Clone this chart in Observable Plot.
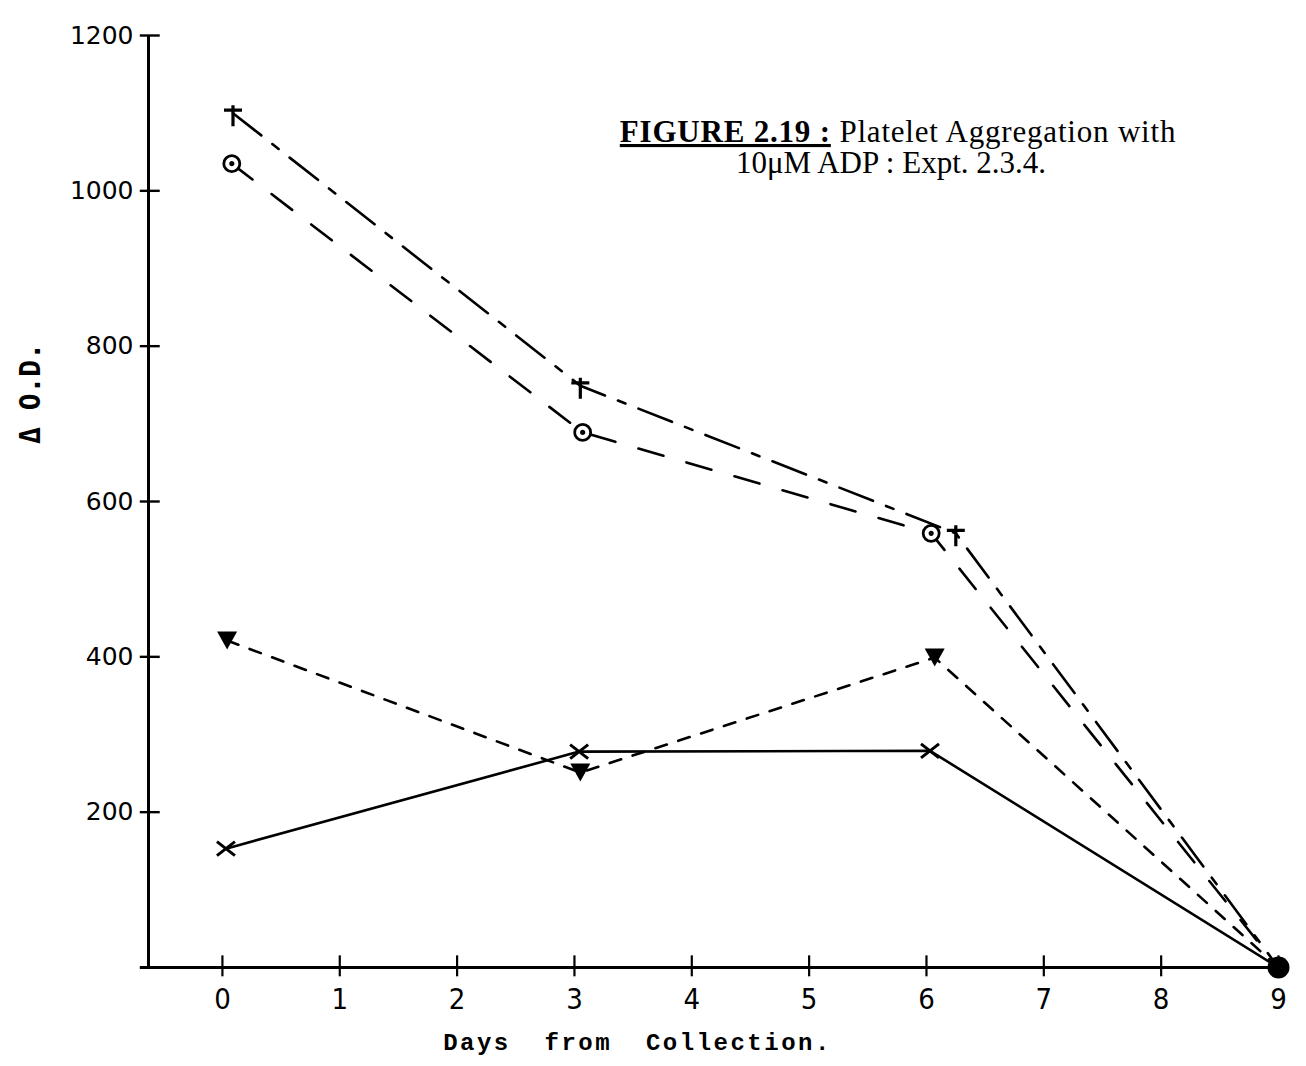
<!DOCTYPE html>
<html><head><meta charset="utf-8">
<script src="https://cdn.jsdelivr.net/npm/d3@7"></script>
<script src="https://cdn.jsdelivr.net/npm/@observablehq/plot@0.6"></script>
<style>
html,body{margin:0;padding:0;background:#fff;}
#chart svg{display:block;}
</style>
</head><body><div id="chart"></div>
<script>
// ---- data ----
const xTicks = [0, 1, 2, 3, 4, 5, 6, 7, 8, 9];
const yTicks = [200, 400, 600, 800, 1000, 1200];

const plusDays = [0.09, 3.05, 6.25, 9];
const plusValues = [1100, 749, 559, 0];
const circleDays = [0.08, 3.07, 6.04, 9];
const circleValues = [1035, 689, 559, 0];
const triangleDays = [0.04, 3.05, 6.07, 9];
const triangleValues = [421, 251, 399, 0];
const crossDays = [0.03, 3.04, 6.03, 9];
const crossValues = [153, 278, 279, 0];
const endDays = [9];
const endValues = [0];

const xLabel = "Days  from  Collection.";
const yLabel = "\u0394 O.D.";
const titleBold = "FIGURE 2.19 :";
const titleRest = " Platelet Aggregation with";
const titleLine2 = "10\u03bcM ADP : Expt. 2.3.4.";

// ---- build tables ----
const mk = (days, vals) => days.map((d, i) => ({day: d, value: vals[i]}));
const plus = mk(plusDays, plusValues);
const circle = mk(circleDays, circleValues);
const triangle = mk(triangleDays, triangleValues);
const cross = mk(crossDays, crossValues);
const endPt = mk(endDays, endValues);

// custom symbols
const daggerSym = {draw(c) { c.moveTo(0, -8); c.lineTo(0, 13); c.moveTo(-9, -3); c.lineTo(9, -3); }};
const ringSym = {draw(c) { c.moveTo(8, 0); c.arc(0, 0, 8, 0, 2 * Math.PI); c.moveTo(1.2, 0); c.arc(0, 0, 1.2, 0, 2 * Math.PI); }};
const triSym = {draw(c) { c.moveTo(-10, -9); c.lineTo(10, -9); c.lineTo(0, 9); c.closePath(); }};
const timesSym = {draw(c) { c.moveTo(-9, -7); c.lineTo(9, 7); c.moveTo(-9, 7); c.lineTo(9, -7); }};

const lineOpts = {x: "day", y: "value", stroke: "black", strokeWidth: 2.6, strokeLinecap: "round"};

const plot = Plot.plot({
  width: 1306,
  height: 1066,
  marginLeft: 148,
  marginRight: 28,
  marginTop: 35,
  marginBottom: 99,
  x: {domain: [-0.63, 9]},
  y: {domain: [0, 1200]},
  style: {background: "white", color: "black", overflow: "visible"},
  marks: [
    // axis lines and crossing ticks
    Plot.ruleY([0], {x1: -0.7, x2: 9, stroke: "black", strokeWidth: 3}),
    Plot.ruleX([-0.63], {y1: 0, y2: 1200, stroke: "black", strokeWidth: 3}),
    Plot.ruleX(xTicks, {x: d => d, y1: -12, y2: 15, stroke: "black", strokeWidth: 2.2}),
    Plot.ruleY(yTicks, {y: d => d, x1: -0.7, x2: -0.53, stroke: "black", strokeWidth: 2.4}),
    Plot.axisX({ticks: xTicks, tickSize: 0, tickPadding: 21, fontSize: 29, tickFormat: d => String(d), fontFamily: "DejaVu Sans Condensed, Liberation Sans Narrow, DejaVu Sans", label: null}),
    Plot.axisY({ticks: yTicks, tickSize: 0, tickPadding: 15, fontSize: 25, tickFormat: d => String(d), fontFamily: "DejaVu Sans", label: null}),
    Plot.text([xLabel], {className: "xlab", frameAnchor: "bottom", dx: -76, dy: 82, fontSize: 24, fontWeight: "bold", fontFamily: "Liberation Mono, DejaVu Sans Mono", text: d => d}),
    Plot.text([yLabel], {frameAnchor: "left", textAnchor: "middle", dx: -117, dy: -108, rotate: -90, fontSize: 28, fontWeight: "bold", fontFamily: "DejaVu Sans Mono", text: d => d}),
    // series lines
    Plot.line(plus, {...lineOpts, strokeDasharray: "36,14,8,14"}),
    Plot.line(circle, {...lineOpts, strokeDasharray: "26,24"}),
    Plot.line(triangle, {...lineOpts, strokeDasharray: "12,12"}),
    Plot.line(cross, lineOpts),
    // markers
    Plot.dot(plus.slice(0, 3), {x: "day", y: "value", symbol: daggerSym, stroke: "black", strokeWidth: 3.2, fill: "none"}),
    Plot.dot(circle.slice(0, 3), {x: "day", y: "value", symbol: ringSym, stroke: "black", strokeWidth: 2.8, fill: "white"}),
    Plot.dot(triangle.slice(0, 3), {x: "day", y: "value", symbol: triSym, fill: "black", stroke: "none"}),
    Plot.dot(cross.slice(0, 3), {x: "day", y: "value", symbol: timesSym, stroke: "black", strokeWidth: 3, fill: "none"}),
    Plot.dot(endPt, {x: "day", y: "value", r: 11, fill: "black", stroke: "none"})
  ]
});

document.getElementById("chart").appendChild(plot);

const svg = d3.select(plot);
// wider letter spacing for the typewriter x-axis title
svg.selectAll(".xlab text").attr("letter-spacing", "2.5px").style("white-space", "pre");

// title block (text elements appended to the SVG)
const tg = svg.append("g").attr("font-family", "Liberation Serif, Times New Roman, serif").attr("fill", "black");
const l1 = tg.append("text").attr("x", 898).attr("y", 142).attr("text-anchor", "middle").attr("font-size", 31).attr("letter-spacing", "0.8px");
l1.append("tspan").attr("font-weight", "bold").attr("text-decoration", "underline").text(titleBold);
l1.append("tspan").text(titleRest);
tg.append("text").attr("x", 891).attr("y", 173).attr("text-anchor", "middle").attr("font-size", 31).text(titleLine2);
</script>
</body></html>
